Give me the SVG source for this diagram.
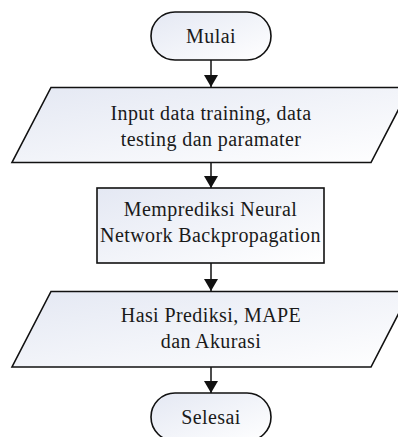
<svg xmlns="http://www.w3.org/2000/svg" width="398" height="437" viewBox="0 0 398 437">
  <style>
    .shape { stroke: #111; stroke-width: 1.6; fill: url(#fillGrad); }
    .label { font-family: "Liberation Serif", "Times New Roman", serif; font-size: 20px; letter-spacing: 0.4px; fill: #1a1a1a; text-anchor: middle; }
    .edge { stroke: #111; stroke-width: 1.5; fill: none; marker-end: url(#arrow); }
  </style>
  <defs>
    <linearGradient id="fillGrad" x1="0" y1="0" x2="1" y2="1">
      <stop offset="0" stop-color="#e4e8f3"/>
      <stop offset="1" stop-color="#ffffff"/>
    </linearGradient>
    <marker id="arrow" viewBox="0 0 12 14" refX="12" refY="7" markerWidth="12" markerHeight="14" markerUnits="userSpaceOnUse" orient="auto">
      <path d="M0,0 L12,7 L0,14 Z" fill="#111"/>
    </marker>
  </defs>

  <rect width="398" height="437" fill="#ffffff"/>

  <g id="connectors">
    <line class="edge" x1="211" y1="60" x2="211" y2="87"/>
    <line class="edge" x1="211" y1="163" x2="211" y2="188"/>
    <line class="edge" x1="211" y1="263" x2="211" y2="291"/>
    <line class="edge" x1="211" y1="367" x2="211" y2="393"/>
  </g>

  <g id="start">
    <rect class="shape" x="151" y="12" width="120" height="48" rx="24" ry="24"/>
    <text class="label" x="211" y="43">Mulai</text>
  </g>

  <g id="input">
    <polygon class="shape" points="51,87.5 410,87.5 371,162.5 12,162.5"/>
    <text class="label" x="211" y="120">Input data training, data</text>
    <text class="label" x="211" y="146">testing dan paramater</text>
  </g>

  <g id="process">
    <rect class="shape" x="97" y="188" width="227" height="75"/>
    <text class="label" x="210.5" y="216">Memprediksi Neural</text>
    <text class="label" x="210.5" y="242">Network Backpropagation</text>
  </g>

  <g id="output">
    <polygon class="shape" points="51,291.5 410,291.5 371,367 12,367"/>
    <text class="label" x="211" y="322">Hasi Prediksi, MAPE</text>
    <text class="label" x="211" y="348">dan Akurasi</text>
  </g>

  <g id="end">
    <rect class="shape" x="151" y="393" width="120" height="48" rx="24" ry="24"/>
    <text class="label" x="211" y="424">Selesai</text>
  </g>
</svg>
